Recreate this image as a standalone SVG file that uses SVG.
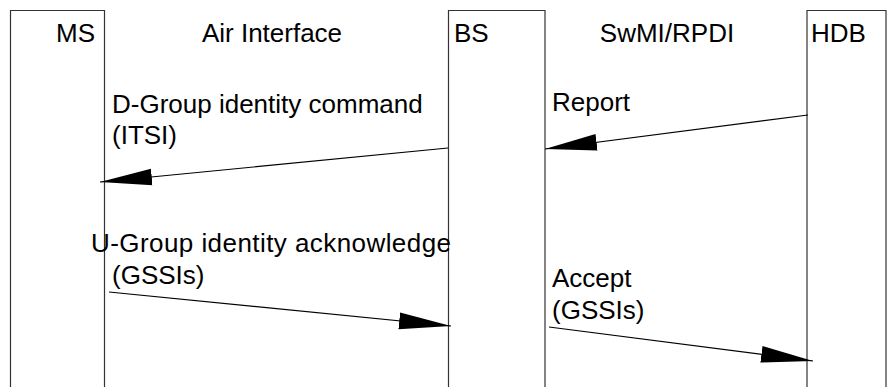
<svg xmlns="http://www.w3.org/2000/svg" width="889" height="387" viewBox="0 0 889 387">
<style>
text { font-family: "Liberation Sans", Arial, sans-serif; font-size: 26px; fill: #000; }
.box { fill: none; stroke: #333; stroke-width: 1.2; }
.msg { stroke: #000; stroke-width: 1.2; fill: none; marker-end: url(#arr); }
</style>
<defs>
<marker id="arr" markerUnits="userSpaceOnUse" markerWidth="52" markerHeight="18" viewBox="0 0 50 16" refX="50" refY="8" orient="auto">
<path d="M0,0 L50,8 L0,16 Z" fill="#000"/>
</marker>
</defs>
<rect width="889" height="387" fill="#fff"/>
<g id="MS">
<path class="box" d="M10.5,387 V10.5 H104.5 V387"/>
<text x="95" y="42" text-anchor="end">MS</text>
</g>
<g id="AirInterface">
<text x="272" y="42" text-anchor="middle">Air Interface</text>
</g>
<g id="BS">
<path class="box" d="M448.5,387 V10.5 H545 V387"/>
<text x="454" y="42">BS</text>
</g>
<g id="SwMI">
<text x="667" y="42" text-anchor="middle">SwMI/RPDI</text>
</g>
<g id="HDB">
<path class="box" d="M807,387 V10.5 H886 V387"/>
<text x="811" y="42">HDB</text>
</g>
<g id="connectors">
<line class="msg" x1="448" y1="148" x2="100" y2="182"/>
<line class="msg" x1="808" y1="115" x2="545" y2="149"/>
<line class="msg" x1="109" y1="292" x2="451" y2="326"/>
<line class="msg" x1="549" y1="327" x2="813" y2="361"/>
</g>
<g id="labels">
<text x="112" y="113">D-Group identity command</text>
<text x="112" y="144">(ITSI)</text>
<text x="552" y="111">Report</text>
<text x="91" y="252" textLength="360" lengthAdjust="spacing">U-Group identity acknowledge</text>
<text x="112" y="284">(GSSIs)</text>
<text x="552" y="287">Accept</text>
<text x="552" y="319">(GSSIs)</text>
</g>
</svg>
